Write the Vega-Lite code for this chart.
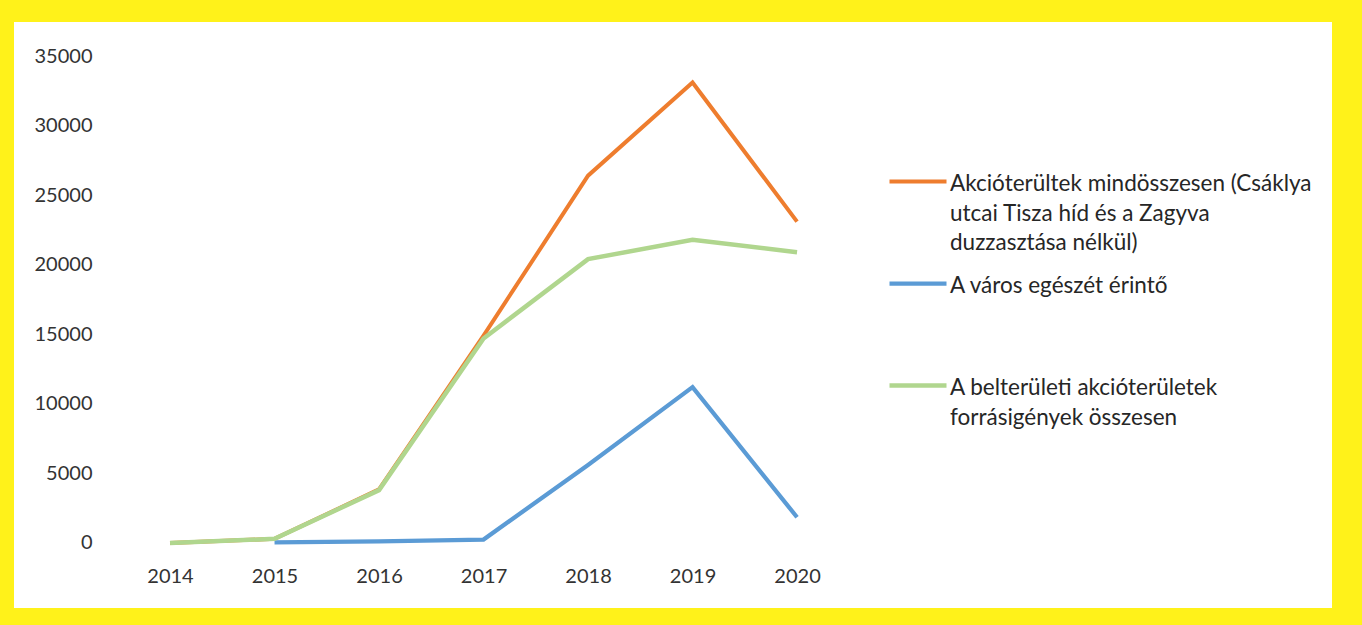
{
  "$schema": "https://vega.github.io/schema/vega-lite/v6.json",
  "width": 1318,
  "height": 586,
  "autosize": {"type": "none"},
  "padding": {"left": 14, "top": 22, "right": 30, "bottom": 17},
  "background": "#FFF21A",
  "config": {
    "view": {"fill": "white", "stroke": null},
    "font": "Lato",
    "style": {"guide-label": {"lineHeight": 29.5}}
  },
  "data": {
    "values": [
      {"year": 2014, "series": "Akcióterültek mindösszesen (Csáklya utcai Tisza híd és a Zagyva duzzasztása nélkül)", "value": 0},
      {"year": 2015, "series": "Akcióterültek mindösszesen (Csáklya utcai Tisza híd és a Zagyva duzzasztása nélkül)", "value": 300},
      {"year": 2016, "series": "Akcióterültek mindösszesen (Csáklya utcai Tisza híd és a Zagyva duzzasztása nélkül)", "value": 3850},
      {"year": 2017, "series": "Akcióterültek mindösszesen (Csáklya utcai Tisza híd és a Zagyva duzzasztása nélkül)", "value": 14900},
      {"year": 2018, "series": "Akcióterültek mindösszesen (Csáklya utcai Tisza híd és a Zagyva duzzasztása nélkül)", "value": 26400},
      {"year": 2019, "series": "Akcióterültek mindösszesen (Csáklya utcai Tisza híd és a Zagyva duzzasztása nélkül)", "value": 33100},
      {"year": 2020, "series": "Akcióterültek mindösszesen (Csáklya utcai Tisza híd és a Zagyva duzzasztása nélkül)", "value": 23100},
      {"year": 2015, "series": "A város egészét érintő", "value": 50},
      {"year": 2016, "series": "A város egészét érintő", "value": 120},
      {"year": 2017, "series": "A város egészét érintő", "value": 250},
      {"year": 2018, "series": "A város egészét érintő", "value": 5600},
      {"year": 2019, "series": "A város egészét érintő", "value": 11200},
      {"year": 2020, "series": "A város egészét érintő", "value": 1850},
      {"year": 2014, "series": "A belterületi akcióterületek forrásigények összesen", "value": 0},
      {"year": 2015, "series": "A belterületi akcióterületek forrásigények összesen", "value": 300},
      {"year": 2016, "series": "A belterületi akcióterületek forrásigények összesen", "value": 3800},
      {"year": 2017, "series": "A belterületi akcióterületek forrásigények összesen", "value": 14700},
      {"year": 2018, "series": "A belterületi akcióterületek forrásigények összesen", "value": 20400},
      {"year": 2019, "series": "A belterületi akcióterületek forrásigények összesen", "value": 21800},
      {"year": 2020, "series": "A belterületi akcióterületek forrásigények összesen", "value": 20900}
    ]
  },
  "mark": {"type": "line", "strokeCap": "butt"},
  "encoding": {
    "x": {
      "field": "year",
      "type": "quantitative",
      "scale": {"domain": [2012.507, 2025.119], "nice": false, "zero": false},
      "axis": {
        "title": null,
        "values": [2014, 2015, 2016, 2017, 2018, 2019, 2020],
        "format": "d",
        "domain": false,
        "ticks": false,
        "tickSize": 0,
        "grid": false,
        "offset": -65,
        "labelPadding": 23,
        "labelFlush": false,
        "labelOverlap": false,
        "labelFont": "Lato",
        "labelFontSize": 20,
        "labelColor": "#333333"
      }
    },
    "y": {
      "field": "value",
      "type": "quantitative",
      "scale": {"domain": [-4672, 37444], "nice": false, "zero": false},
      "axis": {
        "title": null,
        "values": [0, 5000, 10000, 15000, 20000, 25000, 30000, 35000],
        "format": "d",
        "domain": false,
        "ticks": false,
        "tickSize": 0,
        "grid": false,
        "offset": -78,
        "labelPadding": 0,
        "labelFont": "Lato",
        "labelFontSize": 20,
        "labelColor": "#333333"
      }
    },
    "color": {
      "field": "series",
      "type": "nominal",
      "sort": null,
      "scale": {
        "domain": ["Akcióterültek mindösszesen (Csáklya utcai Tisza híd és a Zagyva duzzasztása nélkül)", "A város egészét érintő", "A belterületi akcióterületek forrásigények összesen"],
        "range": ["#EE7D2E", "#5B9BD5", "#B0D68E"]
      },
      "legend": {
        "orient": "none",
        "legendX": 873,
        "legendY": 133,
        "title": null,
        "symbolType": "M-1,0.3L1,0.3",
        "symbolSize": 3249,
        "symbolStrokeWidth": 4,
        "labelFont": "Lato",
        "labelFontSize": 22.5,
        "labelColor": "#262626",
        "labelLimit": 700,
        "labelOffset": 1,
        "labelBaseline": "top",
        "clipHeight": 36,
        "rowPadding": 2,
        "labelExpr": "indexof(datum.label, 'Akció') == 0 ? ['Akcióterültek mindösszesen (Csáklya', 'utcai Tisza híd és a Zagyva', 'duzzasztása nélkül)'] : indexof(datum.label, 'A város') == 0 ? ['A város egészét érintő', '', ''] : ['A belterületi akcióterületek', 'forrásigények összesen', '']"
      }
    },
    "strokeWidth": {
      "field": "series",
      "type": "nominal",
      "scale": {
        "domain": ["Akcióterültek mindösszesen (Csáklya utcai Tisza híd és a Zagyva duzzasztása nélkül)", "A város egészét érintő", "A belterületi akcióterületek forrásigények összesen"],
        "range": [4, 4.5, 3]
      },
      "legend": null
    }
  }
}
